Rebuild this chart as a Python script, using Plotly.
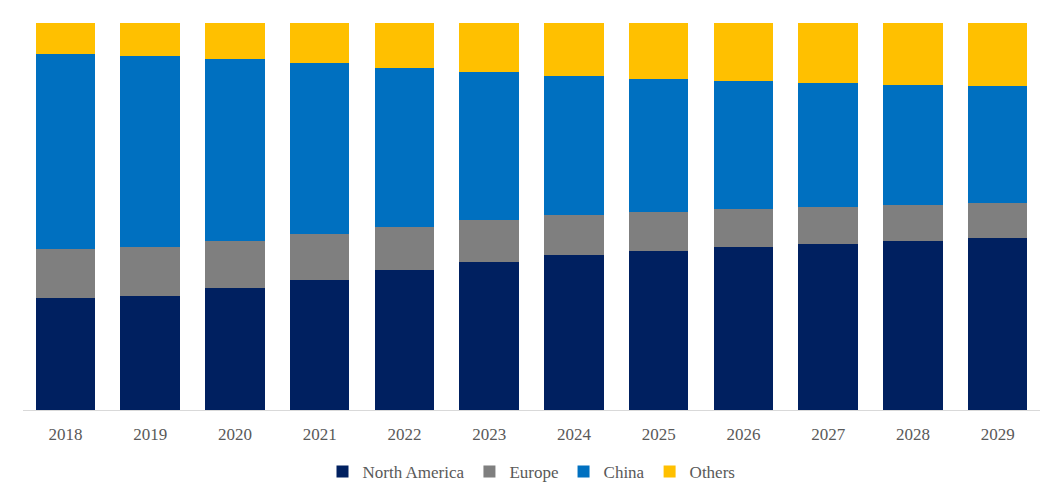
import plotly.graph_objects as go

years = ["2018","2019","2020","2021","2022","2023","2024","2025","2026","2027","2028","2029"]
north_america = [28.9,29.5,31.5,33.6,36.2,38.2,40.1,41.1,42.1,42.9,43.7,44.4]
europe = [12.7,12.6,12.2,11.9,11.1,10.9,10.3,10.1,9.8,9.6,9.3,9.1]
china = [50.4,49.4,47.0,44.2,41.1,38.2,35.9,34.3,33.1,32.0,31.0,30.2]
others = [8.0,8.5,9.3,10.3,11.6,12.7,13.7,14.5,15.0,15.5,16.0,16.3]

series = [("North America", north_america, "#002060"),
          ("Europe", europe, "#7F7F7F"),
          ("China", china, "#0070C0"),
          ("Others", others, "#FFC000")]

fig = go.Figure()
for name, vals, col in series:
    fig.add_trace(go.Bar(x=years, y=vals, name=name, marker=dict(color=col, line=dict(width=0))))

fig.update_layout(
    barmode="stack", barnorm="percent", bargap=0.3,
    width=1063, height=502,
    margin=dict(l=23, r=23, t=23, b=92, autoexpand=False),
    paper_bgcolor="white", plot_bgcolor="white",
    font=dict(family="Liberation Serif, Times New Roman, serif", size=17, color="#595959"),
    showlegend=True,
    legend=dict(orientation="h", x=0.5, xanchor="center", y=-0.16, yanchor="middle",
                font=dict(size=17, color="#595959"), traceorder="normal", itemwidth=30),
    xaxis=dict(showline=True, linecolor="#D9D9D9", linewidth=1, ticks="", showgrid=False,
               automargin=False, ticklabelstandoff=9, tickfont=dict(size=17, color="#595959")),
    yaxis=dict(visible=False, range=[0, 100], showgrid=False),
)
fig.write_html("out.html")
